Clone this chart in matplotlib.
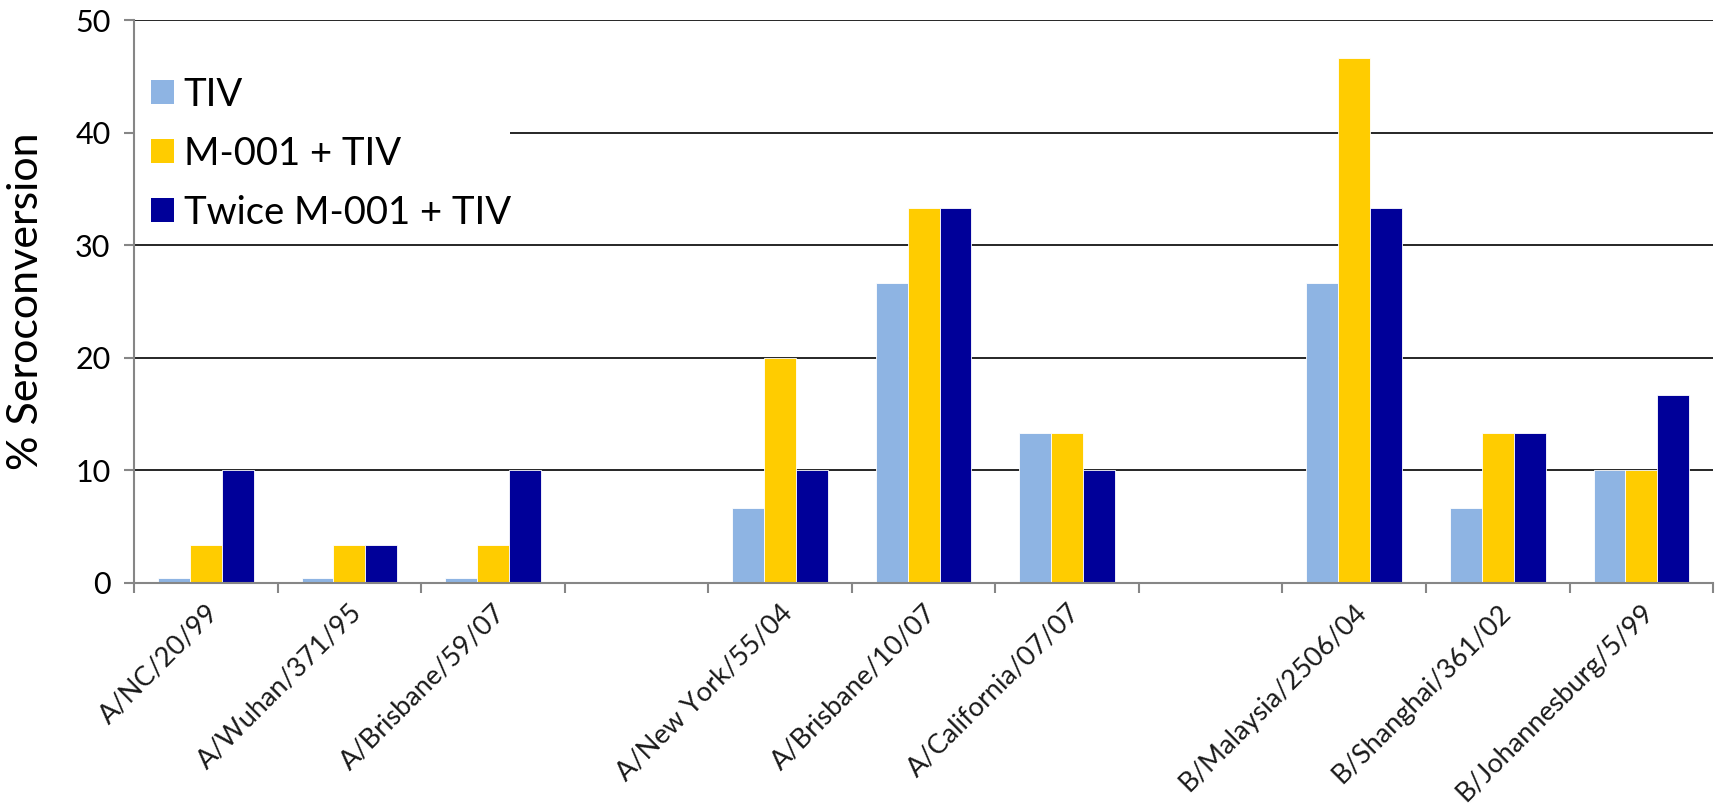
import numpy as np
import matplotlib.pyplot as plt
from matplotlib.patches import Patch, Rectangle

plt.rcParams['font.family'] = ['Lato', 'DejaVu Sans']

# strains (blank entries leave a gap between groups)
strains = ['A/NC/20/99', 'A/Wuhan/371/95', 'A/Brisbane/59/07', '',
           'A/New York/55/04', 'A/Brisbane/10/07', 'A/California/07/07', '',
           'B/Malaysia/2506/04', 'B/Shanghai/361/02', 'B/Johannesburg/5/99']
tiv = [0.4, 0.4, 0.4, np.nan, 6.67, 26.67, 13.33, np.nan, 26.67, 6.67, 10.0]
m001_tiv = [3.33, 3.33, 3.33, np.nan, 20.0, 33.33, 13.33, np.nan, 46.67, 13.33, 10.0]
twice_m001_tiv = [10.0, 3.33, 10.0, np.nan, 10.0, 33.33, 10.0, np.nan, 33.33, 13.33, 16.67]

series = [('TIV', tiv, '#8EB4E3'),
          ('M-001 + TIV', m001_tiv, '#FFCC00'),
          ('Twice M-001 + TIV', twice_m001_tiv, '#000099')]

fig = plt.figure(figsize=(17.21, 8.06), dpi=100)
ax = fig.add_axes([0.0779, 0.2767, 0.9175, 0.6983])

x = np.arange(len(strains))
w = 0.222
for i, (name, vals, col) in enumerate(series):
    ax.bar(x + (i - 1) * w, vals, w, color=col, edgecolor='white',
           linewidth=0.6, zorder=3, label=name)

ax.set_xlim(-0.5, len(strains) - 0.5)
ax.set_ylim(0, 50)
ax.set_yticks(np.arange(0, 51, 10))
ax.yaxis.grid(True, color='#262626', linewidth=1.4, zorder=0)
ax.set_axisbelow(True)

for s in ['top', 'right']:
    ax.spines[s].set_visible(False)
for s in ['left', 'bottom']:
    ax.spines[s].set_color('#868686')
    ax.spines[s].set_linewidth(1.5)
    ax.spines[s].set_zorder(7)

# labels at group centres, tick marks at the group boundaries
ax.set_xticks(x)
ax.set_xticklabels(strains, rotation=45, ha='right', rotation_mode='anchor',
                   fontsize=19.5, color='#1a1a1a')
ax.tick_params(axis='x', which='major', length=0, pad=12)
ax.set_xticks(np.arange(-0.5, len(strains), 1.0), minor=True)
ax.tick_params(axis='x', which='minor', length=7, width=1.5, color='#868686')
ax.tick_params(axis='y', length=7, width=1.5, color='#868686',
               labelsize=22, pad=10)

ax.set_ylabel('% Seroconversion', fontsize=31, labelpad=22)

# white block behind the legend hides the gridline under it
ax.add_patch(Rectangle((0, 0.618), 0.238, 0.337, transform=ax.transAxes,
                       facecolor='white', edgecolor='none', zorder=4))

handles = [Patch(facecolor=c, edgecolor='none') for _, _, c in series]
leg = ax.legend(handles, [n for n, _, _ in series], loc='upper left',
                bbox_to_anchor=(0.0, 0.93), fontsize=27.5, frameon=False,
                borderaxespad=0, borderpad=0.45,
                handlelength=0.6, handleheight=0.6, handletextpad=0.25,
                labelspacing=0.6)
leg.set_zorder(5)

plt.savefig('out.png', dpi=100)
